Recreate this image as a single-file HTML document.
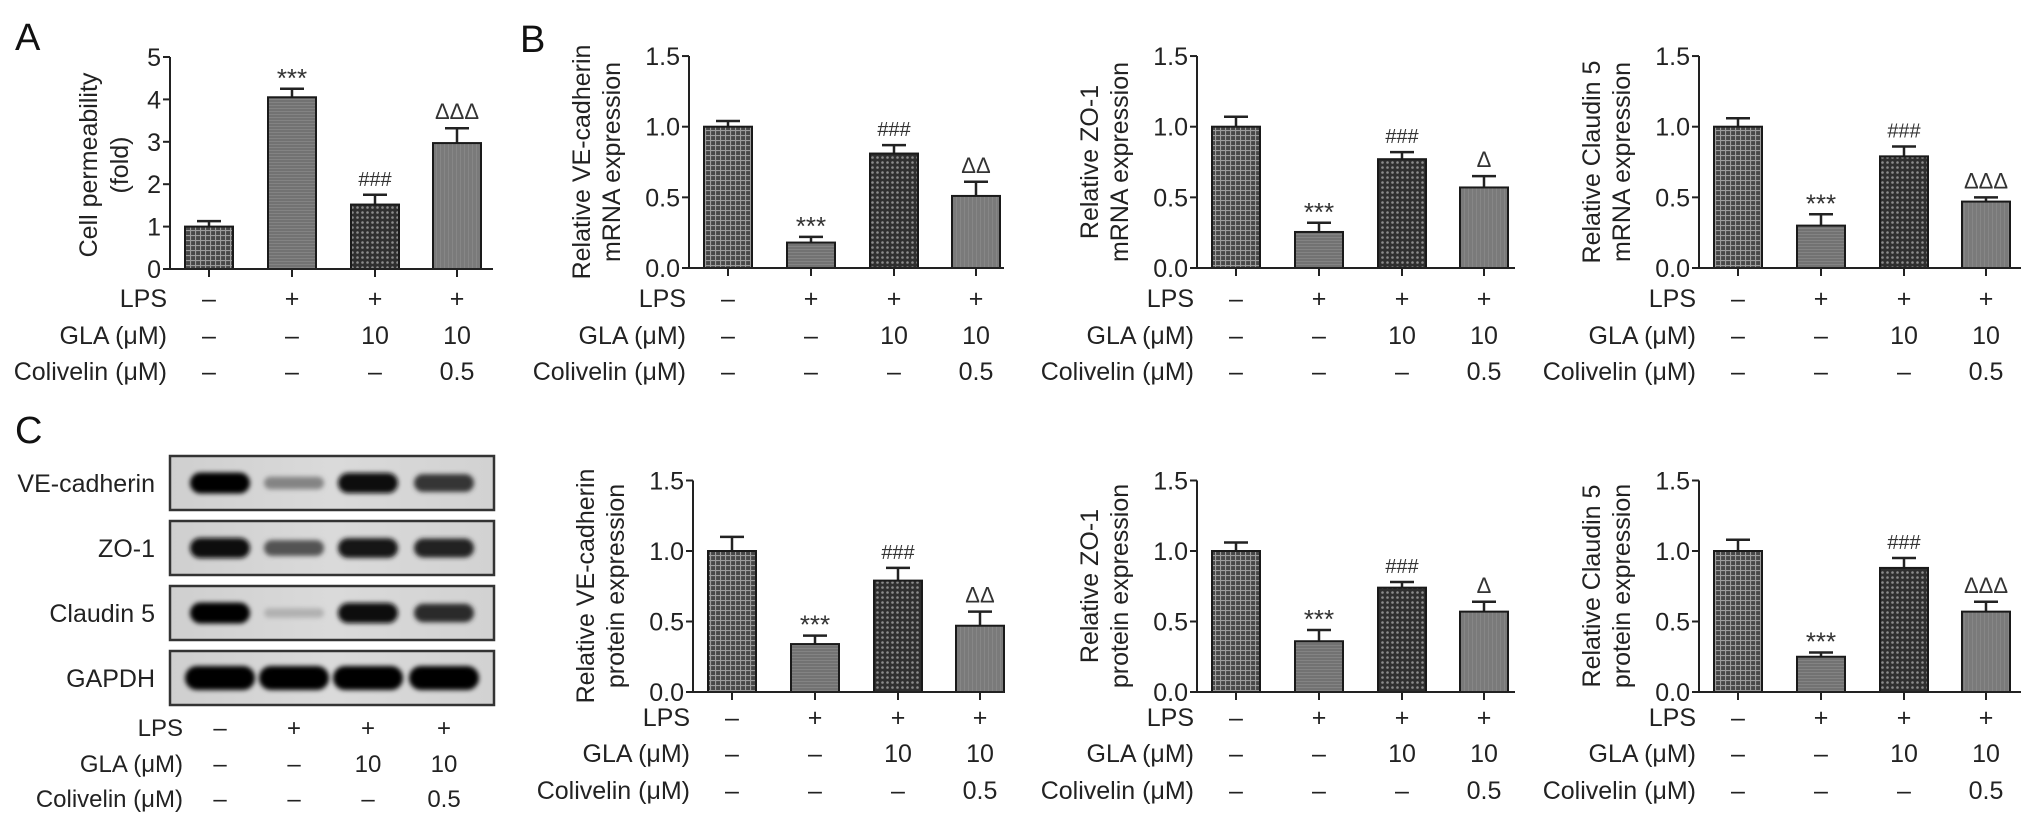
<!DOCTYPE html>
<html><head><meta charset="utf-8">
<style>
html,body{margin:0;padding:0;background:#fff;}
svg{display:block;font-family:"Liberation Sans",Arial,sans-serif;}
</style></head>
<body>
<svg id="fig" width="2032" height="827" viewBox="0 0 2032 827" xmlns="http://www.w3.org/2000/svg">
<defs>
  <pattern id="p1" width="5" height="5" patternUnits="userSpaceOnUse"><rect width="5" height="5" fill="#474747"/><rect width="5" height="1.1" fill="#9c9c9c"/><rect width="1.1" height="5" fill="#9c9c9c"/></pattern>
  <pattern id="p2" width="4" height="3" patternUnits="userSpaceOnUse"><rect width="4" height="3" fill="#727272"/><rect width="4" height="1" fill="#838383"/></pattern>
  <pattern id="p3" width="5" height="5" patternUnits="userSpaceOnUse"><rect width="5" height="5" fill="#2f2f2f"/><circle cx="2.5" cy="2.5" r="1.3" fill="#8c8c8c"/></pattern>
  <pattern id="p4" width="4" height="4" patternUnits="userSpaceOnUse"><rect width="4" height="4" fill="#7a7a7a"/><rect width="1" height="4" fill="#868686"/></pattern>
  <filter id="blur" x="-20%" y="-50%" width="140%" height="200%"><feGaussianBlur stdDeviation="2.5"/></filter>
  <linearGradient id="bg" x1="0" x2="1"><stop offset="0" stop-color="#cfcfcf"/><stop offset="0.5" stop-color="#dadada"/><stop offset="1" stop-color="#d2d2d2"/></linearGradient>
</defs>
<g id="root"></g>
</svg>
<script>
// ---- data ----
const groups = ["Control","LPS","LPS+GLA","LPS+GLA+Colivelin"];
const lpsRow = ["–","+","+","+"];
const glaRow = ["–","–","10","10"];
const colRow = ["–","–","–","0.5"];
const permMean = [1.0, 4.05, 1.52, 2.97];
const permErr = [0.13, 0.2, 0.23, 0.35];
const veMrnaMean = [1.0, 0.18, 0.81, 0.51];
const veMrnaErr = [0.04, 0.04, 0.06, 0.1];
const zoMrnaMean = [1.0, 0.255, 0.77, 0.57];
const zoMrnaErr = [0.07, 0.065, 0.05, 0.08];
const clMrnaMean = [1.0, 0.30, 0.79, 0.47];
const clMrnaErr = [0.06, 0.08, 0.07, 0.03];
const veProtMean = [1.0, 0.34, 0.79, 0.47];
const veProtErr = [0.1, 0.06, 0.09, 0.1];
const zoProtMean = [1.0, 0.36, 0.74, 0.57];
const zoProtErr = [0.06, 0.08, 0.04, 0.07];
const clProtMean = [1.0, 0.25, 0.88, 0.57];
const clProtErr = [0.08, 0.03, 0.07, 0.07];
const permTicks = [0,1,2,3,4,5];
const relTicks = [0,0.5,1.0,1.5];
const sigA = ["","***","###","ΔΔΔ"];
const sigVE = ["","***","###","ΔΔ"];
const sigZO = ["","***","###","Δ"];
const sigCL = ["","***","###","ΔΔΔ"];
const blotProteins = ["VE-cadherin","ZO-1","Claudin 5","GAPDH"];
const blotVE = [1.0, 0.35, 0.95, 0.75];
const blotZO = [0.95, 0.6, 0.9, 0.85];
const blotCL = [1.0, 0.12, 0.95, 0.8];
const blotGA = [1.0, 1.0, 1.0, 1.0];

const NS = "http://www.w3.org/2000/svg";
const root = document.getElementById('root');
function mk(tag, attrs, parent, text){
  const e = document.createElementNS(NS, tag);
  for (const k in attrs) e.setAttribute(k, attrs[k]);
  if (text !== undefined) e.textContent = text;
  (parent || root).appendChild(e);
  return e;
}
const fills = ["url(#p1)","url(#p2)","url(#p3)","url(#p4)"];
const offsets = [39,122,205,287];

function chart(cfg){
  const g = mk('g', {});
  
  
  const ax = cfg.ax, y0 = cfg.y0, ppu = cfg.ppu, top = cfg.ticks[cfg.ticks.length-1];
  const Y = v => y0 - v*ppu;
  const X = i => ax + offsets[i];
  const yl = mk('line', {x1:ax, y1:Y(top), x2:ax, y2:y0, stroke:'#222','stroke-width':2}, g);
  
  
  cfg.ticks.forEach(t => {
    mk('line', {x1:ax-7, y1:Y(t), x2:ax, y2:Y(t), stroke:'#222','stroke-width':2}, g);
    const tl = mk('text', {x:ax-9, y:Y(t)+9, 'text-anchor':'end','font-size':25, fill:'#222'}, g, cfg.fmt(t));
    
    
  });
  cfg.mean.forEach((m,i) => {
    const x = X(i);
    const eTop = Y(m + cfg.err[i]);
    mk('line', {x1:x, y1:eTop, x2:x, y2:Y(m), stroke:'#222','stroke-width':2.5}, g);
    mk('line', {x1:x-12, y1:eTop, x2:x+12, y2:eTop, stroke:'#222','stroke-width':2.5}, g);
    const b = mk('rect', {x:x-24, y:Y(m), width:48, height:y0-Y(m), fill:fills[i], stroke:'#1a1a1a','stroke-width':2}, g);
    
    
    if (cfg.sig[i]) {
      const isD = cfg.sig[i].startsWith('Δ');
      const isStar = cfg.sig[i].startsWith('*');
      const s = mk('text', {x:x, y:isStar ? eTop-2 : eTop-9, 'text-anchor':'middle','font-size':isStar?26:(isD?22:20), fill:'#333'}, g, cfg.sig[i]);
      
      
    }
    mk('line', {x1:x, y1:y0, x2:x, y2:y0+8, stroke:'#222','stroke-width':2}, g);
  });
  const xl = mk('line', {x1:ax-1, y1:y0, x2:ax+cfg.len, y2:y0, stroke:'#222','stroke-width':2}, g);
  
  
  const tx = cfg.titleX, ty = cfg.titleY;
  cfg.title.forEach((line, k) => {
    const t = mk('text', {x:0, y:0, transform:`translate(${tx[k]},${ty}) rotate(-90)`, 'text-anchor':'middle','dominant-baseline':'central','font-size':25, fill:'#222'}, g, line);
    
    
  });
  condRows(g, ax-3, cfg.rows, i => X(i));
}
function condRows(g, rightX, rows, Xf, fs){
  const labels = ["LPS","GLA (μM)","Colivelin (μM)"];
  const vals = [lpsRow, glaRow, colRow];
  rows.forEach((cy, r) => {
    const l = mk('text', {x:rightX, y:cy+9, 'text-anchor':'end','font-size':fs||25, fill:'#222'}, g, labels[r]);
    
    
    vals[r].forEach((v,i) => {
      const t = mk('text', {x:Xf(i), y:cy+9, 'text-anchor':'middle','font-size':fs||25, fill:'#222'}, g, v);
      
      
    });
  });
}
const fmt1 = t => t.toFixed(1);
const topRows = [298,335,371];
const botRows = [717,753,790];
[["A",15,50],["B",520,52],["C",15,443]].forEach(p => {
  const t = mk('text', {x:p[1], y:p[2], 'font-size':38, fill:'#111'}, root, p[0]);
  
  
});
chart({name:'chart-cell-permeability', ax:170, y0:269, ppu:42.4, ticks:permTicks, fmt:t=>String(t), mean:permMean, err:permErr, sig:sigA, len:323, title:["Cell permeability","(fold)"], titleX:[89,120], titleY:165, rows:topRows});
const bAx = [689,1197,1699];
chart({name:'chart-ve-cadherin-mrna', ax:bAx[0], y0:268, ppu:141.3, ticks:relTicks, fmt:fmt1, mean:veMrnaMean, err:veMrnaErr, sig:sigVE, len:315, title:["Relative VE-cadherin","mRNA expression"], titleX:[bAx[0]-107,bAx[0]-77], titleY:162, rows:topRows});
chart({name:'chart-zo1-mrna', ax:bAx[1], y0:268, ppu:141.3, ticks:relTicks, fmt:fmt1, mean:zoMrnaMean, err:zoMrnaErr, sig:sigZO, len:318, title:["Relative ZO-1","mRNA expression"], titleX:[bAx[1]-107,bAx[1]-77], titleY:162, rows:topRows});
chart({name:'chart-claudin5-mrna', ax:bAx[2], y0:268, ppu:141.3, ticks:relTicks, fmt:fmt1, mean:clMrnaMean, err:clMrnaErr, sig:sigCL, len:322, title:["Relative Claudin 5","mRNA expression"], titleX:[bAx[2]-107,bAx[2]-77], titleY:162, rows:topRows});
chart({name:'chart-ve-cadherin-protein', ax:bAx[0]+4, y0:692, ppu:141, ticks:relTicks, fmt:fmt1, mean:veProtMean, err:veProtErr, sig:sigVE, len:311, title:["Relative VE-cadherin","protein expression"], titleX:[bAx[0]-103,bAx[0]-73], titleY:586, rows:botRows});
chart({name:'chart-zo1-protein', ax:bAx[1], y0:692, ppu:141, ticks:relTicks, fmt:fmt1, mean:zoProtMean, err:zoProtErr, sig:sigZO, len:318, title:["Relative ZO-1","protein expression"], titleX:[bAx[1]-107,bAx[1]-77], titleY:586, rows:botRows});
chart({name:'chart-claudin5-protein', ax:bAx[2], y0:692, ppu:141, ticks:relTicks, fmt:fmt1, mean:clProtMean, err:clProtErr, sig:sigCL, len:322, title:["Relative Claudin 5","protein expression"], titleX:[bAx[2]-107,bAx[2]-77], titleY:586, rows:botRows});

const blot = mk('g', {});


const laneX = [220,294,368,444];
const boxTop = [456,521,586,651];
const intens = [blotVE, blotZO, blotCL, blotGA];
blotProteins.forEach((p, r) => {
  const y = boxTop[r];
  const box = mk('rect', {x:170, y:y, width:324, height:54, fill:'url(#bg)', stroke:'#333','stroke-width':2.5}, blot);
  
  
  const lab = mk('text', {x:155, y:y+27+9, 'text-anchor':'end','font-size':25, fill:'#222'}, blot, p);
  
  
  intens[r].forEach((v,i) => {
    const w = r===3 ? 70 : 60;
    const h = r===3 ? 24 : 8 + 13*v;
    const gray = Math.round(200 - 195*v);
    const band = mk('rect', {x:laneX[i]-w/2, y:y+27-h/2, width:w, height:h, rx:h/2, fill:`rgb(${gray},${gray},${gray})`, filter:'url(#blur)'}, blot);
    
    
  });
});
condRows(blot, 183, [727,763,798], i => laneX[i], 24);
</script>
</body></html>
